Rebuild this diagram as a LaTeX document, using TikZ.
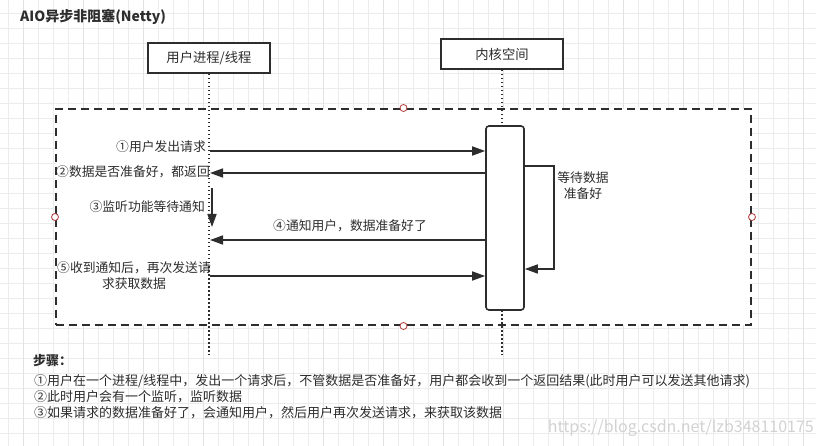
\documentclass[tikz,border=0pt]{standalone}
\usepackage{fontspec}
\setmainfont{Noto Sans CJK SC}
\usetikzlibrary{arrows.meta}
\definecolor{inkgray}{RGB}{45,45,45}
\definecolor{gridgray}{RGB}{236,236,236}
\definecolor{gridmajor}{RGB}{226,226,226}
\definecolor{handlered}{RGB}{178,58,58}
\definecolor{marktext}{RGB}{210,210,210}

\tikzset{
  lifebox/.style={draw=inkgray,line width=2pt,fill=white,minimum width=122pt,
    minimum height=30pt,inner sep=0pt,text=inkgray,font=\fontsize{13.3}{15}\selectfont},
  actbox/.style={draw=inkgray,line width=1.6pt,fill=white,rounded corners=3pt,
    minimum width=38pt,minimum height=184pt,inner sep=0pt},
  framebox/.style={draw=inkgray,line width=2pt,dash pattern=on 8pt off 5pt,fill=white,
    minimum width=695pt,minimum height=216pt,inner sep=0pt},
  lifeline/.style={draw=inkgray,line width=1.5pt,dash pattern=on 1.5pt off 2.5pt},
  msg/.style={draw=inkgray,line width=1.6pt,-{Triangle[length=13pt,width=9pt]}},
  msglabel/.style={text=inkgray,inner sep=1pt,font=\fontsize{12.8}{16}\selectfont},
  handle/.style={draw=handlered,fill=white,line width=0.8pt,circle,minimum size=7pt,inner sep=0pt},
}

\begin{document}
\begin{tikzpicture}[x=1pt,y=-1pt]
  \useasboundingbox (0,0) rectangle (816,446);
  \fill[white] (0,0) rectangle (816,446);
  % background grid
  \foreach \gx in {8,23,...,816}{
    \draw[gridgray,line width=0.7pt] (\gx,0) -- (\gx,446);
  }
  \foreach \gy in {13,28,...,446}{
    \draw[gridgray,line width=0.7pt] (0,\gy) -- (816,\gy);
  }
  \foreach \gx in {23,83,...,816}{
    \draw[gridmajor,line width=0.7pt] (\gx,0) -- (\gx,446);
  }

  \node[anchor=west,text=inkgray,inner sep=0pt,font=\bfseries\fontsize{14}{16}\selectfont]
    (title) at (20,17) {AIO异步非阻塞(Netty)};

  \node[framebox] (loop) at (403.5,217) {};

  \node[lifebox] (user) at (209,58) {用户进程/线程};
  \node[lifebox] (kernel) at (502,54) {内核空间};
  \draw[lifeline] (user.south) -- (user.south |- 0,355);
  \draw[lifeline] (kernel.south) -- (kernel.south |- 0,355);

  \node[actbox] (act) at (505,218) {};

  % messages
  \coordinate (m1) at (210,151);
  \coordinate (m2) at (210,173);
  \coordinate (w1) at (212,188);
  \coordinate (w2) at (212,227);
  \coordinate (m4) at (210,240);
  \coordinate (m5) at (210,276);
  \draw[msg] (m1) -- (act.west |- m1);
  \draw[msg] (act.west |- m2) -- (m2);
  \draw[msg] (w1) -- (w2);
  \draw[msg] (act.west |- m4) -- (m4);
  \draw[msg] (m5) -- (act.west |- m5);

  % waiting loop on the kernel side
  \coordinate (l1) at (554,166);
  \coordinate (l2) at (554,269);
  \draw[msg] (act.east |- l1) -- (l1) -- (l2) -- (act.east |- l2);

  \node[msglabel,anchor=east] (t1) at (207,147) {①用户发出请求};
  \node[msglabel,anchor=east] (t2) at (211,172) {②数据是否准备好，都返回};
  \node[msglabel,anchor=east] (t3) at (206,207) {③监听功能等待通知};
  \node[msglabel] (t4) at (350,226) {④通知用户，数据准备好了};
  \node[msglabel,align=center] (t5) at (134,276) {⑤收到通知后，再次发送请\\求获取数据};
  \node[msglabel,align=center] (t6) at (583,186) {等待数据\\准备好};

  \node[handle] (h1) at (loop.north) {};
  \node[handle] (h2) at (loop.east) {};
  \node[handle] (h3) at (loop.south) {};
  \node[handle] (h4) at (loop.west) {};

  % steps
  \node[anchor=west,text=inkgray,inner sep=0pt,font=\bfseries\fontsize{13}{15}\selectfont]
    (steps) at (33,361) {步骤：};
  \node[msglabel,anchor=north west,align=left,inner sep=0pt,font=\fontsize{13}{16}\selectfont]
    (notes) at (34,374)
    {①用户在一个进程/线程中，发出一个请求后，不管数据是否准备好，用户都会收到一个返回结果(此时用户可以发送其他请求)\\
     ②此时用户会有一个监听，监听数据\\
     ③如果请求的数据准备好了，会通知用户，然后用户再次发送请求，来获取该数据};

  \node[anchor=east,text=marktext,inner sep=0pt,font=\fontsize{16}{18}\selectfont]
    (mark) at (814,428) {https://blog.csdn.net/lzb348110175};
\end{tikzpicture}
\end{document}
